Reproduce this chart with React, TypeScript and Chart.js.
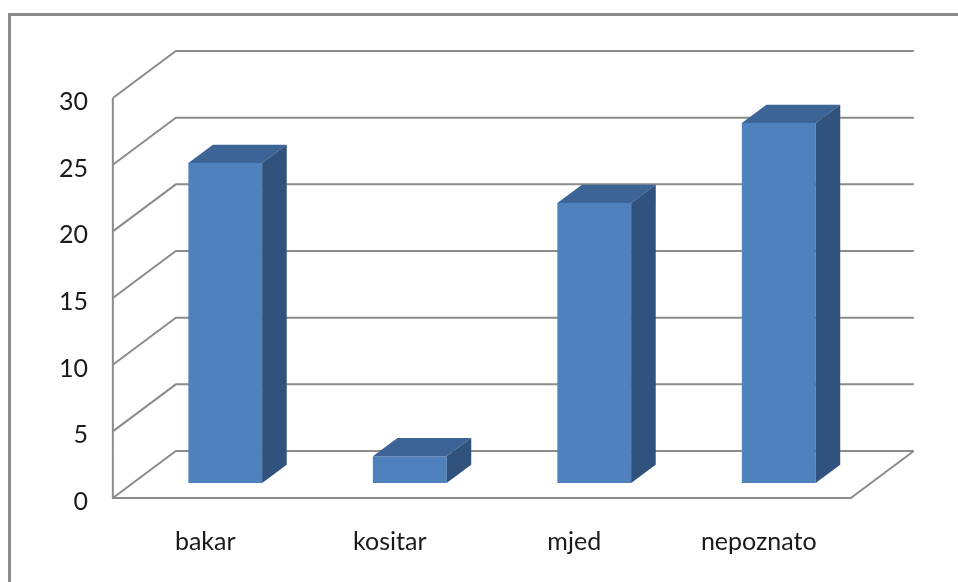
import React, { useEffect, useRef } from 'react';
import { Chart, registerables } from 'chart.js';

Chart.register(...registerables);

const CATEGORIES = ['bakar', 'kositar', 'mjed', 'nepoznato'];
const VALUES = [24, 2, 21, 27];
const Y_TICKS = [0, 5, 10, 15, 20, 25, 30];

const FRONT = '#4F81BD';
const TOP = '#3C6496';
const SIDE = '#30527C';
const GRID = '#8c8c8c';
const FONT = 'Lato';

// 3D depth of the floor (pixels) and where the bars sit in it
const DEPTH_X = 63;
const DEPTH_Y = -47;
const BAR_FRONT = 0.32;
const BAR_BACK = 0.71;

const threeD = {
  id: 'threeD',
  beforeDatasetsDraw(chart: any) {
    const { ctx, chartArea, scales } = chart;
    const y = scales.y;
    const L = chartArea.left;
    const R = chartArea.right;
    const fx = -BAR_FRONT * DEPTH_X;
    const fy = -BAR_FRONT * DEPTH_Y;
    const bx = (1 - BAR_FRONT) * DEPTH_X;
    const by = (1 - BAR_FRONT) * DEPTH_Y;
    ctx.save();
    ctx.strokeStyle = GRID;
    ctx.lineWidth = 2;
    ctx.lineJoin = 'miter';
    for (const t of Y_TICKS) {
      const py = y.getPixelForValue(t);
      ctx.beginPath();
      ctx.moveTo(L + fx, py + fy);
      ctx.lineTo(L + bx, py + by);
      ctx.lineTo(R + bx, py + by);
      ctx.stroke();
    }
    const y0 = y.getPixelForValue(Y_TICKS[0]);
    const yTop = y.getPixelForValue(Y_TICKS[Y_TICKS.length - 1]);
    ctx.beginPath();
    ctx.moveTo(L + fx, yTop + fy);
    ctx.lineTo(L + fx, y0 + fy);
    ctx.lineTo(R + fx, y0 + fy);
    ctx.lineTo(R + bx, y0 + by);
    ctx.stroke();
    ctx.restore();
  },
  afterDatasetsDraw(chart: any) {
    const { ctx } = chart;
    const meta = chart.getDatasetMeta(0);
    const dx = (BAR_BACK - BAR_FRONT) * DEPTH_X;
    const dy = (BAR_BACK - BAR_FRONT) * DEPTH_Y;
    ctx.save();
    meta.data.forEach((bar: any) => {
      const { x, y, base, width } = bar.getProps(['x', 'y', 'base', 'width'], true);
      const l = x - width / 2;
      const r = x + width / 2;
      ctx.fillStyle = TOP;
      ctx.beginPath();
      ctx.moveTo(l, y);
      ctx.lineTo(l + dx, y + dy);
      ctx.lineTo(r + dx, y + dy);
      ctx.lineTo(r, y);
      ctx.closePath();
      ctx.fill();
      ctx.fillStyle = SIDE;
      ctx.beginPath();
      ctx.moveTo(r, y);
      ctx.lineTo(r + dx, y + dy);
      ctx.lineTo(r + dx, base + dy);
      ctx.lineTo(r, base);
      ctx.closePath();
      ctx.fill();
    });
    ctx.restore();
  },
};

export default function App() {
  const ref = useRef<HTMLCanvasElement | null>(null);
  useEffect(() => {
    if (!ref.current) return;
    const chart = new Chart(ref.current, {
      type: 'bar',
      data: {
        labels: CATEGORIES,
        datasets: [
          {
            data: VALUES,
            backgroundColor: FRONT,
            borderWidth: 0,
            barPercentage: 0.4,
            categoryPercentage: 1,
          },
        ],
      },
      options: {
        responsive: false,
        animation: false,
        devicePixelRatio: 1,
        layout: { padding: { left: 33, right: 87, top: 83, bottom: 19 } },
        plugins: { legend: { display: false }, tooltip: { enabled: false } },
        scales: {
          x: {
            grid: { display: false },
            border: { display: false },
            ticks: {
              font: { family: FONT, size: 25 },
              color: '#1a1a1a',
              padding: 36,
              labelOffset: -20,
              maxRotation: 0,
            },
            afterFit: (s: any) => {
              s.height = 80;
            },
          },
          y: {
            min: Y_TICKS[0],
            max: Y_TICKS[Y_TICKS.length - 1],
            grid: { display: false },
            border: { display: false },
            ticks: {
              stepSize: Y_TICKS[1] - Y_TICKS[0],
              font: { family: FONT, size: 25 },
              color: '#1a1a1a',
              padding: 37,
              labelOffset: 19,
            },
            afterFit: (s: any) => {
              s.width = 100;
            },
          },
        },
      },
      plugins: [threeD],
    });
    return () => chart.destroy();
  }, []);
  return (
    <div
      style={{
        position: 'fixed',
        left: 0,
        top: 0,
        width: 958,
        height: 582,
        overflow: 'hidden',
        background: '#fff',
      }}
    >
      <div
        style={{
          position: 'absolute',
          left: 8,
          top: 13,
          width: 1200,
          height: 1200,
          border: '3px solid #8c8c8c',
        }}
      />
      <canvas
        ref={ref}
        width={958}
        height={582}
        style={{ position: 'absolute', left: 0, top: 0, width: 958, height: 582 }}
      />
    </div>
  );
}
